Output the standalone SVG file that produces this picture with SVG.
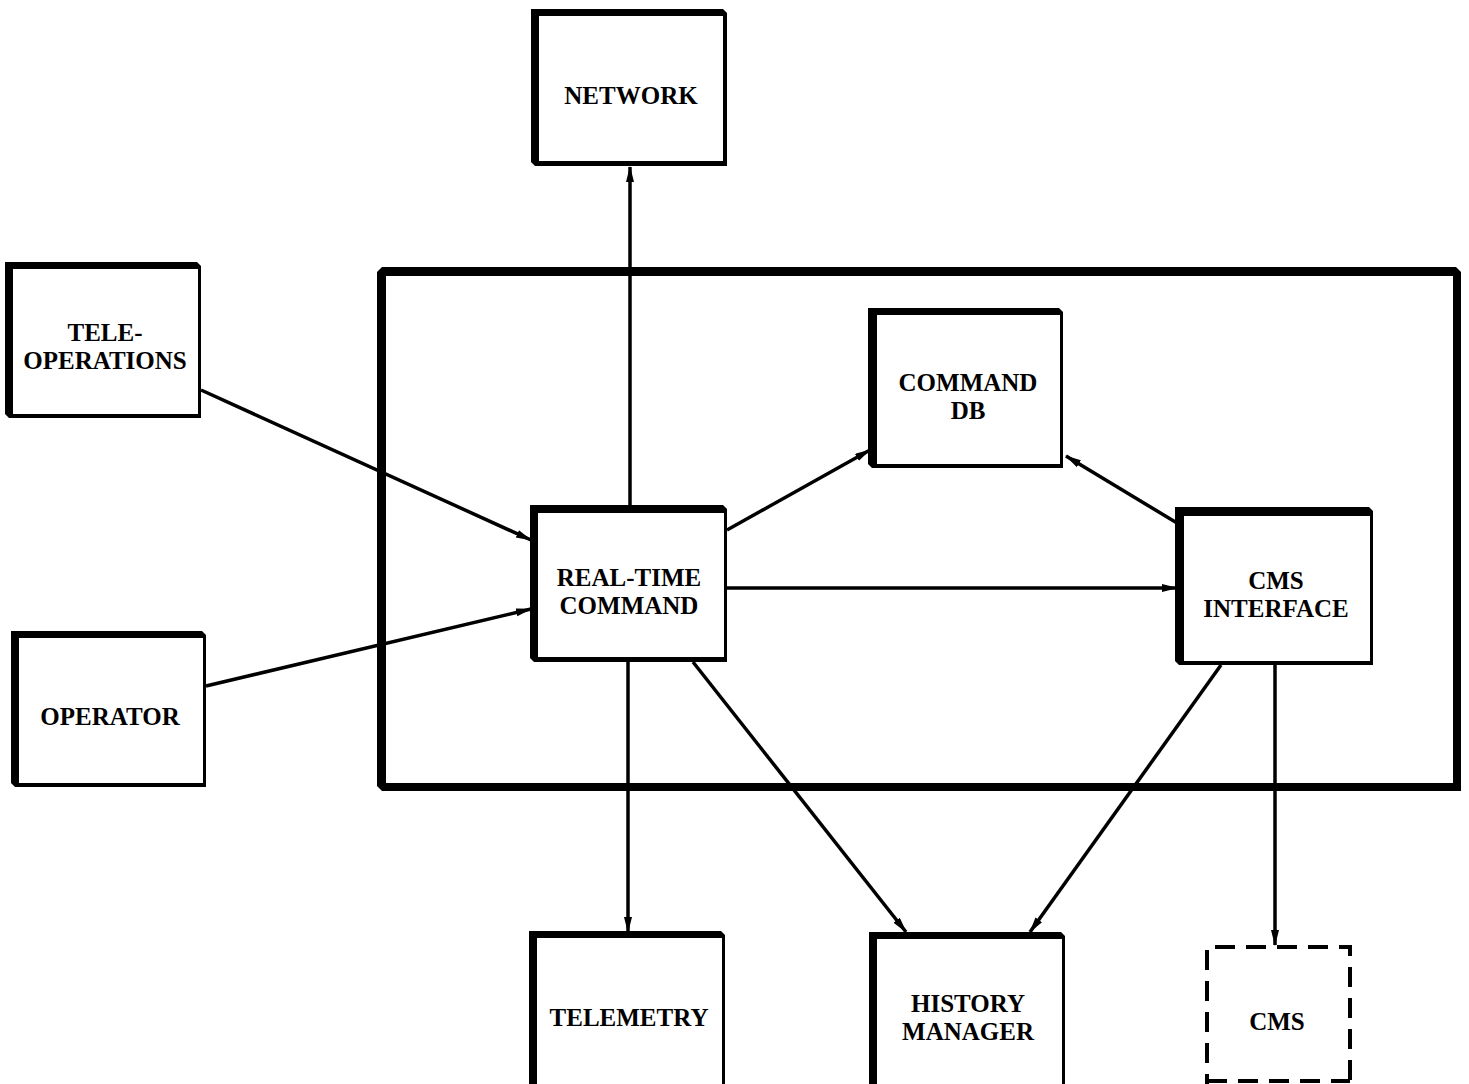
<svg xmlns="http://www.w3.org/2000/svg" width="1469" height="1084" viewBox="0 0 1469 1084">
  <style>
    .edge { fill: #000; }
    .face { fill: #fff; }
    .lbl { font-family: "Liberation Serif", "Times New Roman", serif; font-weight: bold; font-size: 25px; text-anchor: middle; fill: #000; }
    .wire { stroke: #000; stroke-width: 3.5; fill: none; marker-end: url(#head); }
    .dash { fill: none; stroke: #000; stroke-width: 4; stroke-dasharray: 20 11; }
  </style>
  <defs>
    <marker id="head" markerUnits="userSpaceOnUse" markerWidth="16" markerHeight="10" refX="15" refY="4" orient="auto">
      <path d="M0,0 L16,4 L0,8 Z" fill="#000"/>
    </marker>
  </defs>
  <rect width="1469" height="1084" fill="#fff"/>

  <!-- enclosing subsystem frame -->
  <g id="subsystem">
    <polygon class="edge" points="382,267 1456,267 1461,272 1461,791 382,791 377,786 377,272"/>
    <rect class="face" x="386" y="276" width="1067" height="507"/>
  </g>

  <!-- connectors -->
  <g id="connectors">
    <line class="wire" x1="630" y1="505" x2="630" y2="167"/>
    <line class="wire" x1="201" y1="390" x2="531" y2="540"/>
    <line class="wire" x1="206" y1="686" x2="531" y2="609"/>
    <line class="wire" x1="727" y1="530" x2="870" y2="450"/>
    <line class="wire" x1="1177" y1="523" x2="1066" y2="456"/>
    <line class="wire" x1="727" y1="588" x2="1177" y2="588"/>
    <line class="wire" x1="628" y1="662" x2="628" y2="932"/>
    <line class="wire" x1="693" y1="662" x2="906" y2="932"/>
    <line class="wire" x1="1221" y1="665" x2="1030" y2="932"/>
    <line class="wire" x1="1275" y1="665" x2="1275" y2="945"/>
  </g>

  <g id="network">
    <polygon class="edge" points="531,9 723,9 727,13 727,166 535,166 531,162"/>
    <rect class="face" x="539" y="16" width="184" height="145"/>
    <text class="lbl" x="631" y="104">NETWORK</text>
  </g>

  <g id="teleoperations">
    <polygon class="edge" points="5,262 197,262 201,266 201,418 9,418 5,414"/>
    <rect class="face" x="13" y="269" width="185" height="145"/>
    <text class="lbl" x="105" y="341">TELE-</text>
    <text class="lbl" x="105" y="369">OPERATIONS</text>
  </g>

  <g id="operator">
    <polygon class="edge" points="11,631 202,631 206,635 206,787 15,787 11,783"/>
    <rect class="face" x="19" y="638" width="184" height="145"/>
    <text class="lbl" x="110" y="725">OPERATOR</text>
  </g>

  <g id="realtime-command">
    <polygon class="edge" points="530,505 723,505 727,509 727,662 534,662 530,658"/>
    <rect class="face" x="538" y="513" width="186" height="144"/>
    <text class="lbl" x="629" y="586">REAL-TIME</text>
    <text class="lbl" x="629" y="614">COMMAND</text>
  </g>

  <g id="command-db">
    <polygon class="edge" points="868,308 1059,308 1063,312 1063,468 872,468 868,464"/>
    <rect class="face" x="877" y="315" width="183" height="149"/>
    <text class="lbl" x="968" y="391">COMMAND</text>
    <text class="lbl" x="968" y="419">DB</text>
  </g>

  <g id="cms-interface">
    <polygon class="edge" points="1175,507 1369,507 1373,511 1373,665 1179,665 1175,661"/>
    <rect class="face" x="1184" y="516" width="186" height="145"/>
    <text class="lbl" x="1276" y="589">CMS</text>
    <text class="lbl" x="1276" y="617">INTERFACE</text>
  </g>

  <g id="telemetry">
    <polygon class="edge" points="529,931 721,931 725,935 725,1090 529,1090"/>
    <rect class="face" x="537" y="938" width="185" height="152"/>
    <text class="lbl" x="629" y="1026">TELEMETRY</text>
  </g>

  <g id="history-manager">
    <polygon class="edge" points="869,932 1061,932 1065,936 1065,1090 869,1090"/>
    <rect class="face" x="877" y="939" width="185" height="151"/>
    <text class="lbl" x="968" y="1012">HISTORY</text>
    <text class="lbl" x="968" y="1040">MANAGER</text>
  </g>

  <g id="cms">
    <path class="dash" d="M1207,1094 L1207,947 L1350,947 L1350,1094"/>
    <path class="dash" d="M1207,1081 L1350,1081"/>
    <text class="lbl" x="1277" y="1030">CMS</text>
  </g>
</svg>
